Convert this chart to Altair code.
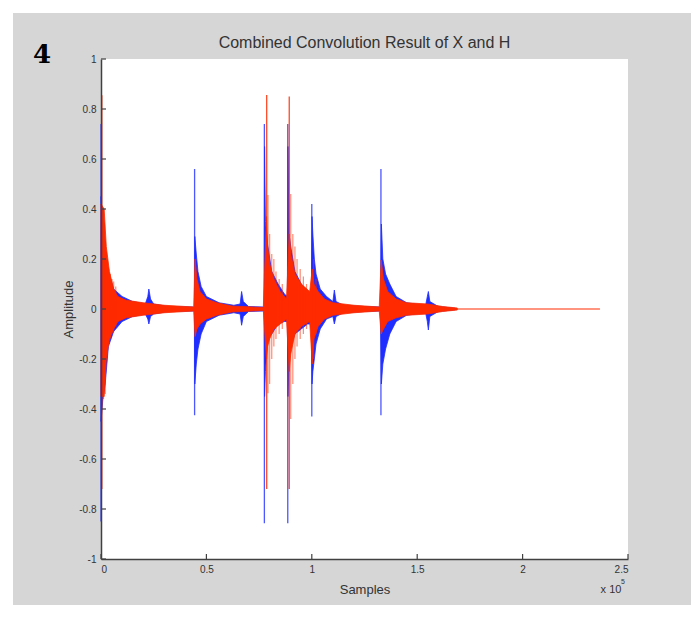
import altair as alt
import pandas as pd

# ---------------- data (x in units of 1e5 samples) ----------------
x_ticks = [0, 0.5, 1, 1.5, 2, 2.5]
y_ticks = [-1, -0.8, -0.6, -0.4, -0.2, 0, 0.2, 0.4, 0.6, 0.8, 1]

# blue signal: main spikes
blue_spike_x = [0.000, 0.444, 0.775, 0.886, 1.000, 1.328]
blue_spike_hi = [0.74, 0.56, 0.74, 0.74, 0.42, 0.56]
blue_spike_lo = [-0.85, -0.425, -0.857, -0.857, -0.43, -0.425]

# blue signal: envelope
blue_env_x = [0.000, 0.010, 0.020, 0.035, 0.06, 0.10, 0.15, 0.21, 0.222, 0.227, 0.235, 0.25, 0.32, 0.443,
              0.445, 0.452, 0.46, 0.475, 0.50, 0.56, 0.63, 0.66, 0.667, 0.675, 0.70, 0.774,
              0.776, 0.780, 0.79, 0.81, 0.84, 0.87, 0.884,
              0.887, 0.892, 0.90, 0.92, 0.95, 0.98, 0.998,
              1.001, 1.005, 1.012, 1.02, 1.04, 1.07, 1.10, 1.107, 1.115, 1.15, 1.25, 1.326,
              1.330, 1.337, 1.35, 1.37, 1.40, 1.45, 1.54, 1.548, 1.553, 1.56, 1.60, 1.68]
blue_env_hi = [0.45, 0.30, 0.24, 0.15, 0.08, 0.05, 0.03, 0.02, 0.05, 0.08, 0.04, 0.02, 0.01, 0.008,
               0.29, 0.22, 0.15, 0.09, 0.05, 0.025, 0.015, 0.02, 0.07, 0.03, 0.01, 0.008,
               0.65, 0.35, 0.26, 0.15, 0.10, 0.06, 0.05,
               0.65, 0.30, 0.25, 0.15, 0.10, 0.07, 0.06,
               0.37, 0.30, 0.20, 0.14, 0.08, 0.05, 0.03, 0.076, 0.03, 0.015, 0.01, 0.008,
               0.34, 0.20, 0.14, 0.10, 0.05, 0.025, 0.015, 0.05, 0.07, 0.03, 0.01, 0.003]
blue_env_lo = [-0.45, -0.35, -0.30, -0.15, -0.09, -0.05, -0.03, -0.02, -0.04, -0.06, -0.03, -0.02, -0.01, -0.008,
               -0.30, -0.22, -0.16, -0.10, -0.05, -0.025, -0.015, -0.02, -0.065, -0.03, -0.01, -0.008,
               -0.35, -0.25, -0.12, -0.10, -0.06, -0.05, -0.05,
               -0.35, -0.20, -0.15, -0.10, -0.08, -0.06, -0.06,
               -0.30, -0.25, -0.20, -0.14, -0.08, -0.04, -0.03, -0.06, -0.03, -0.015, -0.01, -0.008,
               -0.30, -0.22, -0.16, -0.10, -0.05, -0.025, -0.015, -0.05, -0.084, -0.03, -0.01, -0.003]

# red signal: envelope
red_env_x = [0.000, 0.015, 0.025, 0.04, 0.06, 0.08, 0.12, 0.20, 0.30, 0.44,
             0.446, 0.455, 0.47, 0.50, 0.55, 0.62, 0.77,
             0.785, 0.79, 0.80, 0.82, 0.85, 0.88,
             0.893, 0.90, 0.92, 0.95, 0.99,
             1.002, 1.01, 1.03, 1.06, 1.10, 1.20, 1.32,
             1.329, 1.34, 1.36, 1.40, 1.45, 1.55, 1.62, 1.69]
red_env_hi = [0.42, 0.40, 0.25, 0.15, 0.08, 0.05, 0.035, 0.025, 0.015, 0.008,
              0.20, 0.12, 0.07, 0.04, 0.025, 0.012, 0.006,
              0.37, 0.25, 0.18, 0.12, 0.07, 0.04,
              0.30, 0.22, 0.14, 0.10, 0.07,
              0.16, 0.10, 0.07, 0.04, 0.025, 0.015, 0.008,
              0.196, 0.12, 0.07, 0.04, 0.025, 0.02, 0.01, 0.004]
red_env_lo = [-0.35, -0.35, -0.20, -0.12, -0.08, -0.05, -0.035, -0.025, -0.015, -0.008,
              -0.11, -0.08, -0.06, -0.04, -0.025, -0.012, -0.006,
              -0.20, -0.15, -0.12, -0.08, -0.06, -0.04,
              -0.25, -0.18, -0.10, -0.07, -0.05,
              -0.22, -0.12, -0.07, -0.04, -0.025, -0.015, -0.008,
              -0.10, -0.08, -0.05, -0.035, -0.025, -0.02, -0.01, -0.004]

# red signal: spikes and ringing lines
red_spike_x = [0.004, 0.786, 0.893]
red_spike_hi = [0.855, 0.856, 0.85]
red_spike_lo = [-0.72, -0.72, -0.72]

red_comb_x = [0.012, 0.020, 0.028, 0.036, 0.044, 0.052, 0.060, 0.070,
              0.792, 0.800, 0.810, 0.820, 0.830, 0.845, 0.860,
              0.900, 0.910, 0.920, 0.930, 0.945, 0.960, 0.975,
              1.008, 1.020]
red_comb_hi = [0.35, 0.22, 0.20, 0.16, 0.14, 0.12, 0.11, 0.09,
               0.456, 0.30, 0.22, 0.20, 0.15, 0.12, 0.10,
               0.46, 0.30, 0.25, 0.20, 0.16, 0.13, 0.10,
               0.20, 0.12]
red_comb_lo = [-0.36, -0.34, -0.18, -0.14, -0.12, -0.10, -0.09, -0.07,
               -0.337, -0.30, -0.20, -0.15, -0.12, -0.10, -0.08,
               -0.44, -0.30, -0.20, -0.15, -0.12, -0.10, -0.08,
               -0.20, -0.10]

signal_end = 2.367

# ---------------- styles ----------------
BLUE = "#1f2dff"
RED = "#ff2a00"
PANEL = "#d6d6d6"
AX = "#404040"
FONT = "Liberation Sans"
W, H = 527, 500

xs = alt.Scale(domain=[0, 2.5], nice=False, zero=False)
ys = alt.Scale(domain=[-1, 1], nice=False, zero=False)

one = pd.DataFrame({"a": [0]})

blue_env = pd.DataFrame({"x": blue_env_x, "hi": blue_env_hi, "lo": blue_env_lo})
red_env = pd.DataFrame({"x": red_env_x, "hi": red_env_hi, "lo": red_env_lo})
blue_sp = pd.DataFrame({"x": blue_spike_x, "hi": blue_spike_hi, "lo": blue_spike_lo})
red_sp = pd.DataFrame({"x": red_spike_x, "hi": red_spike_hi, "lo": red_spike_lo})
red_cb = pd.DataFrame({"x": red_comb_x, "hi": red_comb_hi, "lo": red_comb_lo})
base_df = pd.DataFrame({"x": [0.0], "x2": [signal_end], "hi": [0.0]})

x_axis = alt.Axis(values=x_ticks, labelExpr="'' + datum.value", title="Samples",
                  ticks=False, grid=False, domainColor=AX, domainWidth=1.5, zindex=2,
                  labelFontSize=10, labelColor="#333", labelFont=FONT, labelPadding=5,
                  titleFont=FONT, titleFontSize=13, titleFontWeight="normal", titleColor="#333",
                  titleY=30, titleBaseline="middle")
y_axis = alt.Axis(values=y_ticks, labelExpr="'' + datum.value", title="Amplitude",
                  ticks=False, grid=False, domainColor=AX, domainWidth=1.5, zindex=2,
                  labelFontSize=10, labelColor="#333", labelFont=FONT, labelPadding=5,
                  titleFont=FONT, titleFontSize=13, titleFontWeight="normal", titleColor="#333",
                  titleX=-33, titleY=H / 2, titleAngle=270, titleBaseline="middle", titleAlign="center")

X = alt.X("x:Q", scale=xs, axis=x_axis)
Y = alt.Y("hi:Q", scale=ys, axis=y_axis)

# grey figure panel and white axes box (page-like frame, pixel positions)
panel = alt.Chart(one).mark_rect(color=PANEL).encode(
    x=alt.value(-88), x2=alt.value(592), y=alt.value(-46), y2=alt.value(546))
plotbg = alt.Chart(one).mark_rect(color="white").encode(
    x=alt.value(0), x2=alt.value(W), y=alt.value(0), y2=alt.value(H))

baseline = alt.Chart(base_df).mark_rule(color=RED, strokeWidth=1).encode(x=X, x2="x2:Q", y=Y)
blue_area = alt.Chart(blue_env).mark_area(color=BLUE, stroke=BLUE, strokeWidth=0.8).encode(
    x=X, y=Y, y2="lo:Q")
blue_rules = alt.Chart(blue_sp).mark_rule(color=BLUE, strokeWidth=1.3, opacity=0.8).encode(
    x=X, y=Y, y2="lo:Q")
red_area = alt.Chart(red_env).mark_area(color=RED, stroke=RED, strokeWidth=0.8).encode(
    x=X, y=Y, y2="lo:Q")
red_rules = alt.Chart(red_sp).mark_rule(color=RED, strokeWidth=1.3, opacity=0.85).encode(
    x=X, y=Y, y2="lo:Q")
red_comb = alt.Chart(red_cb).mark_rule(color=RED, strokeWidth=1.2, opacity=0.55).encode(
    x=X, y=Y, y2="lo:Q")

xt = alt.Chart(pd.DataFrame({"x": x_ticks})).mark_rule(color=AX, strokeWidth=1.2).encode(
    x=X, y=alt.value(H), y2=alt.value(H - 5))
yt = alt.Chart(pd.DataFrame({"hi": y_ticks})).mark_rule(color=AX, strokeWidth=1.2).encode(
    y=Y, x=alt.value(0), x2=alt.value(5))

title_txt = alt.Chart(one).mark_text(text="Combined Convolution Result of X and H", font=FONT,
                                     fontSize=16, color="#333", align="center",
                                     baseline="middle").encode(
    x=alt.value(W / 2), y=alt.value(-16))
exp_txt = alt.Chart(one).mark_text(text="x 10", font=FONT, fontSize=11, color="#333",
                                   align="center", baseline="middle").encode(
    x=alt.value(510), y=alt.value(31 + H))
exp_sup = alt.Chart(one).mark_text(text="5", font=FONT, fontSize=7, color="#333",
                                   align="center", baseline="middle").encode(
    x=alt.value(522), y=alt.value(23 + H))
num = alt.Chart(one).mark_text(text="4", font="DejaVu Serif", fontSize=26, fontWeight="bold",
                               color="black", align="center", baseline="middle").encode(
    x=alt.value(-59), y=alt.value(-4))

chart = alt.layer(
    panel, plotbg, baseline, blue_area, blue_rules, red_area, red_comb, red_rules,
    xt, yt, title_txt, exp_txt, exp_sup, num
).properties(
    width=W, height=H,
    autosize=alt.AutoSizeParams(type="none"),
    padding={"left": 93, "top": 51, "right": 63, "bottom": 46},
    background="white",
).configure_view(strokeWidth=0)

chart.save("out.html", embed_options={"renderer": "svg", "actions": False})
